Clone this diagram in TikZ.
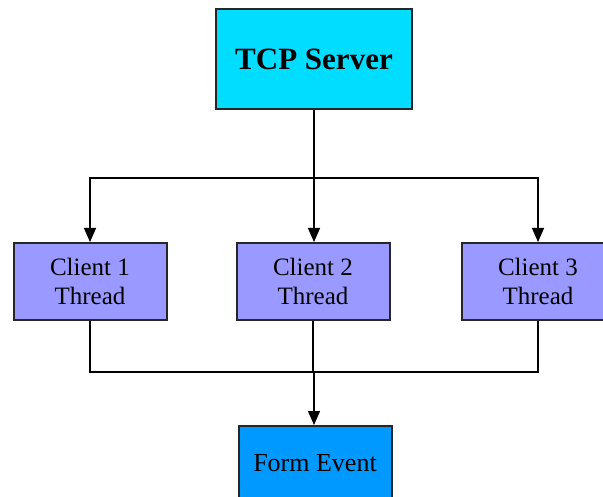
\documentclass[tikz,border=0pt]{standalone}
\usepackage{fontspec}
\setmainfont{Liberation Serif}
\usetikzlibrary{arrows.meta}
\definecolor{servercol}{RGB}{0,221,255}
\definecolor{clientcol}{RGB}{153,153,255}
\definecolor{formcol}{RGB}{0,153,255}
\tikzset{
  box/.style={draw=black!85, line width=2pt, inner sep=0pt, align=center},
  serverbox/.style={box, fill=servercol, minimum width=196pt, minimum height=100pt,
    font=\fontsize{31}{34}\selectfont\bfseries},
  clientbox/.style={box, fill=clientcol, minimum width=153pt, minimum height=77pt,
    font=\fontsize{25}{29}\selectfont},
  formbox/.style={box, fill=formcol, minimum width=153pt, minimum height=100pt},
  formtext/.style={font=\fontsize{26}{28}\selectfont},
  wire/.style={draw=black, line width=1.3pt},
  arr/.style={wire, -{Triangle[width=12pt,length=14pt]}}
}
\begin{document}
\begin{tikzpicture}[x=1pt,y=-1pt]
  \clip (0,0) rectangle (603,497);
  \fill[white] (0,0) rectangle (603,497);

  \node[serverbox] (server) at (314,59.5) {TCP Server};
  \node[clientbox] (c1) at (90,281.5) {Client 1\\Thread};
  \node[clientbox] (c2) at (313,281.5) {Client 2\\Thread};
  \node[clientbox] (c3) at (538,281.5) {Client 3\\Thread};
  \node[formbox, anchor=north] (form) at (315,425) {};
  \node[formtext] (formlabel) at (315,463) {Form Event};

  \coordinate (split) at (314,178);
  \coordinate (join) at (314,372);

  \draw[wire] (server.south) -- (split);
  \draw[arr] (split) -| (c1.north);
  \draw[arr] (split) -| (c3.north);
  \draw[arr] (split) -- (split |- c2.north);

  \draw[wire] (c1.south) |- (join);
  \draw[wire] (c3.south) |- (join);
  \draw[wire] (c2.south) -- (c2.south |- join);
  \draw[arr] (join) -- (join |- form.north);
\end{tikzpicture}
\end{document}
